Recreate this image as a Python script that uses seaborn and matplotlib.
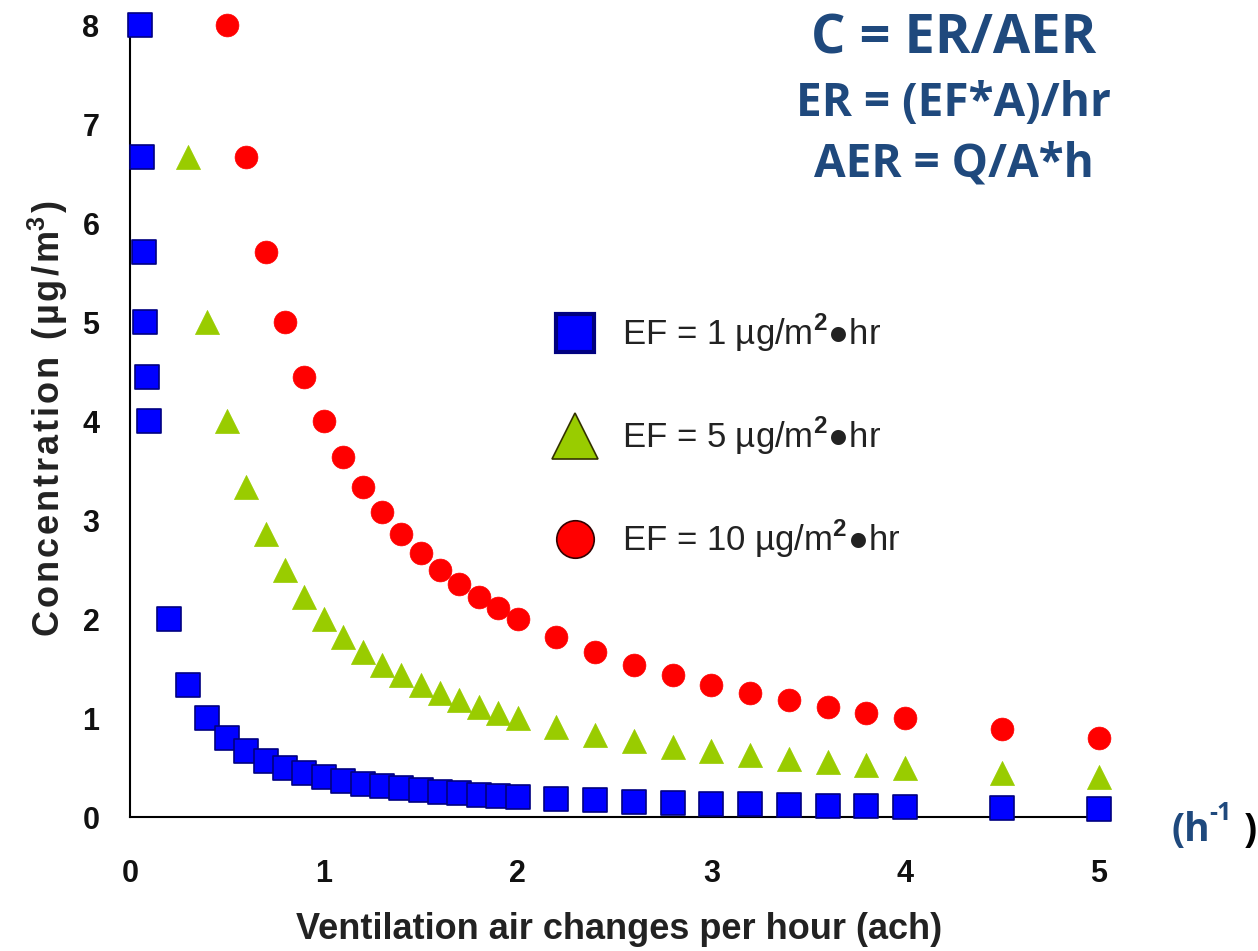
import matplotlib
matplotlib.use("Agg")
import matplotlib.pyplot as plt
from matplotlib.lines import Line2D
import seaborn as sns
import pandas as pd

# Ventilation rate (air changes per hour) and resulting concentration (µg/m³)
ach_ef1 = [0.05, 0.06, 0.07, 0.08, 0.09, 0.1, 0.2, 0.3, 0.4, 0.5, 0.6, 0.7, 0.8, 0.9,
           1.0, 1.1, 1.2, 1.3, 1.4, 1.5, 1.6, 1.7, 1.8, 1.9, 2.0,
           2.2, 2.4, 2.6, 2.8, 3.0, 3.2, 3.4, 3.6, 3.8, 4.0, 4.5, 5.0]
conc_ef1 = [8.0, 6.67, 5.71, 5.0, 4.44, 4.0, 2.0, 1.33, 1.0, 0.8, 0.67, 0.57, 0.5, 0.44,
            0.4, 0.36, 0.33, 0.31, 0.29, 0.27, 0.25, 0.24, 0.22, 0.21, 0.2,
            0.18, 0.17, 0.15, 0.14, 0.13, 0.13, 0.12, 0.11, 0.11, 0.1, 0.09, 0.08]

ach_ef5 = [0.3, 0.4, 0.5, 0.6, 0.7, 0.8, 0.9, 1.0, 1.1, 1.2, 1.3, 1.4, 1.5, 1.6, 1.7,
           1.8, 1.9, 2.0, 2.2, 2.4, 2.6, 2.8, 3.0, 3.2, 3.4, 3.6, 3.8, 4.0, 4.5, 5.0]
conc_ef5 = [6.67, 5.0, 4.0, 3.33, 2.86, 2.5, 2.22, 2.0, 1.82, 1.67, 1.54, 1.43, 1.33,
            1.25, 1.18, 1.11, 1.05, 1.0, 0.91, 0.83, 0.77, 0.71, 0.67, 0.63, 0.59,
            0.56, 0.53, 0.5, 0.44, 0.4]

ach_ef10 = [0.5, 0.6, 0.7, 0.8, 0.9, 1.0, 1.1, 1.2, 1.3, 1.4, 1.5, 1.6, 1.7, 1.8, 1.9,
            2.0, 2.2, 2.4, 2.6, 2.8, 3.0, 3.2, 3.4, 3.6, 3.8, 4.0, 4.5, 5.0]
conc_ef10 = [8.0, 6.67, 5.71, 5.0, 4.44, 4.0, 3.64, 3.33, 3.08, 2.86, 2.67, 2.5, 2.35,
             2.22, 2.11, 2.0, 1.82, 1.67, 1.54, 1.43, 1.33, 1.25, 1.18, 1.11, 1.05,
             1.0, 0.89, 0.8]

series_labels = ["EF = 1 µg/m$^{\\mathbf{2}}$●hr",
                 "EF = 5 µg/m$^{\\mathbf{2}}$●hr",
                 "EF = 10 µg/m$^{\\mathbf{2}}$●hr"]
x_ticks = [0, 1, 2, 3, 4, 5]
y_ticks = [0, 1, 2, 3, 4, 5, 6, 7, 8]

sns.set_theme(style="white")
plt.rcParams["font.family"] = ["Liberation Sans", "DejaVu Sans"]
plt.rcParams["mathtext.fontset"] = "custom"
plt.rcParams["mathtext.rm"] = "Liberation Sans"
plt.rcParams["mathtext.bf"] = "Liberation Sans:bold"

fig = plt.figure(figsize=(12.58, 9.51), dpi=100)
ax = fig.add_axes([0.1033, 0.1409, 0.778, 0.838])

df1 = pd.DataFrame({"ach": ach_ef1, "conc": conc_ef1})
df5 = pd.DataFrame({"ach": ach_ef5, "conc": conc_ef5})
df10 = pd.DataFrame({"ach": ach_ef10, "conc": conc_ef10})

# red circles first, blue squares on top
layers = [
    (df10, dict(marker="o", color="#FF0000", edgecolor="#FF0000", s=270, linewidth=0.5)),
    (df5, dict(marker="^", color="#99CC00", edgecolor="#99CC00", s=300, linewidth=0.5)),
    (df1, dict(marker="s", color="#0000FF", edgecolor="#000080", s=290, linewidth=1.2)),
]
for d, st in layers:
    sns.scatterplot(data=d, x="ach", y="conc", ax=ax, legend=False,
                    clip_on=False, zorder=3, **st)

ax.set_xlim(0, 5.05)
ax.set_ylim(0, 8.05)
ax.set_xticks(x_ticks)
ax.set_yticks(y_ticks)
ax.tick_params(axis="both", length=0, labelsize=22, colors="#111111")
ax.tick_params(axis="x", pad=30)
ax.tick_params(axis="y", pad=22)
for lab in ax.get_xticklabels() + ax.get_yticklabels():
    lab.set_fontweight("bold")
for side in ["top", "right"]:
    ax.spines[side].set_visible(False)
for side in ["left", "bottom"]:
    ax.spines[side].set_color("black")
    ax.spines[side].set_linewidth(1.5)

ax.set_xlabel("Ventilation air changes per hour (ach)", fontsize=26,
              fontweight="bold", color="#222222", labelpad=17)
# slightly tracked-out axis title
ylab = "\u200a".join("Concentration (µg/m") + "$^{\\mathbf{3}}$\u200a)"
ax.set_ylabel(ylab, fontsize=26, fontweight="bold", color="#222222", labelpad=9)

handles = [
    Line2D([], [], linestyle="none", marker="s", markersize=28,
           markerfacecolor="#0000FF", markeredgecolor="#000080", markeredgewidth=3),
    Line2D([], [], linestyle="none", marker="^", markersize=33,
           markerfacecolor="#99CC00", markeredgecolor="#333300", markeredgewidth=1.2),
    Line2D([], [], linestyle="none", marker="o", markersize=27,
           markerfacecolor="#FF0000", markeredgecolor="#330000", markeredgewidth=1.2),
]
ax.legend(handles, series_labels, frameon=False, fontsize=25,
          loc="upper left", bbox_to_anchor=(0.405, 0.651),
          labelspacing=1.75, handlelength=2, handletextpad=0.35, borderaxespad=0,
          labelcolor="#222222")

formula_color = "#1F497D"
fig.text(0.758, 0.958, "C = ER/AER", fontsize=39, fontweight="bold",
         color=formula_color, ha="center", va="center", family="Open Sans")
fig.text(0.758, 0.891, "ER = (EF*A)/hr", fontsize=33, fontweight="bold",
         color=formula_color, ha="center", va="center", family="Open Sans")
fig.text(0.758, 0.828, "AER = Q/A*h", fontsize=33, fontweight="bold",
         color=formula_color, ha="center", va="center", family="Open Sans")

# unit marker next to the x axis
fig.text(0.931, 0.127, "(h", fontsize=28, fontweight="bold",
         color=formula_color, ha="left", va="center", family="Open Sans")
fig.text(0.961, 0.145, "-1", fontsize=18, fontweight="bold",
         color=formula_color, ha="left", va="center", family="Open Sans")
fig.text(0.989, 0.127, ")", fontsize=28, fontweight="bold",
         color="black", ha="left", va="center", family="Open Sans")

fig.savefig("out.png", dpi=100)
